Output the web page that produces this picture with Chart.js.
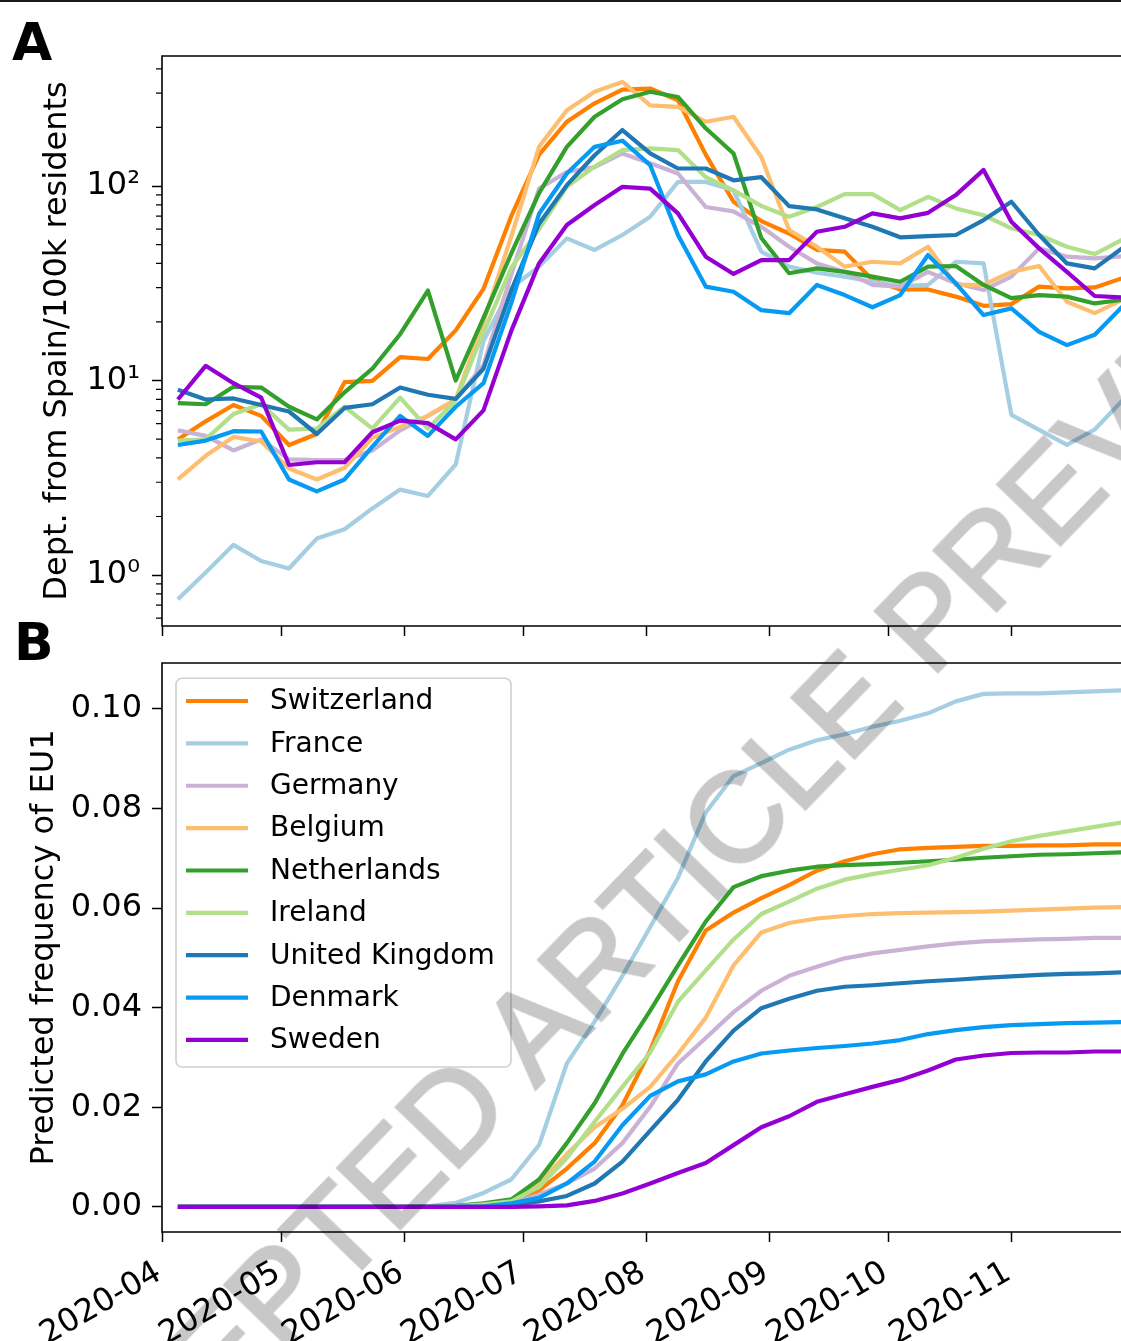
<!DOCTYPE html>
<html><head><meta charset="utf-8">
<script src="https://cdn.jsdelivr.net/npm/chart.js@4.4.1/dist/chart.umd.min.js"></script>
<style>
html,body{margin:0;padding:0;background:#fff;overflow:hidden;width:1121px;height:1341px;}
#wrap{position:relative;width:1121px;height:1341px;overflow:hidden;background:#fff;}
#topline{position:absolute;left:0;top:0;width:1121px;height:2px;background:#1a1a1a;z-index:3;}
#ca{position:absolute;left:0;top:0;}
#cb{position:absolute;left:0;top:640px;}
.plabel{position:absolute;font-family:'DejaVu Sans';font-weight:bold;font-size:52px;line-height:52px;color:#000;z-index:2;}
#wm{position:absolute;left:655px;top:902px;transform:translate(-50%,-50%) rotate(-46deg);font-family:'Liberation Sans';font-size:127px;line-height:1;white-space:nowrap;color:#c8c8c8;-webkit-text-stroke:3px #c8c8c8;mix-blend-mode:multiply;z-index:4;pointer-events:none;}
</style></head>
<body><div id="wrap">
<div id="topline"></div>
<canvas id="ca" width="1121" height="640" style="width:1121px;height:640px"></canvas>
<canvas id="cb" width="1121" height="701" style="width:1121px;height:701px"></canvas>
<div class="plabel" style="left:12px;top:16px">A</div>
<div class="plabel" style="left:14px;top:616px">B</div>
<div id="wm">ACCEPTED ARTICLE PREVIEW</div>
</div>
<script>
// ---------- data ----------
const weeks = ['2020-04-05','2020-04-12','2020-04-19','2020-04-26','2020-05-03','2020-05-10','2020-05-17','2020-05-24','2020-05-31','2020-06-07','2020-06-14','2020-06-21','2020-06-28','2020-07-05','2020-07-12','2020-07-19','2020-07-26','2020-08-02','2020-08-09','2020-08-16','2020-08-23','2020-08-30','2020-09-06','2020-09-13','2020-09-20','2020-09-27','2020-10-04','2020-10-11','2020-10-18','2020-10-25','2020-11-01','2020-11-08','2020-11-15','2020-11-22','2020-11-29'];
const monthTicks = ['2020-04-01','2020-05-01','2020-06-01','2020-07-01','2020-08-01','2020-09-01','2020-10-01','2020-11-01'];
const monthLabels = ['2020-04','2020-05','2020-06','2020-07','2020-08','2020-09','2020-10','2020-11'];
const countries = ['Switzerland','France','Germany','Belgium','Netherlands','Ireland','United Kingdom','Denmark','Sweden'];
const colors = ['#ff7f00','#a6cee3','#cab2d6','#fdbf6f','#33a02c','#b2df8a','#1f78b4','#069af3','#9400d3'];

// Panel A: departures from Spain per 100k residents (log scale)
const deptSwitzerland = [4.98,6.17,7.48,6.58,4.66,5.31,9.81,9.96,13.2,12.9,18.1,29.6,70,145,214,266,313,317,276,145,83,66,57,47,46,33,29.4,29.4,27,24.2,24.7,30.4,29.8,30.1,33.6];
const deptFrance      = [0.75,1.03,1.43,1.18,1.08,1.54,1.72,2.2,2.75,2.55,3.7,16,30,38.5,53.8,46.9,56,69.5,105,105,95,46,38.5,35.8,34.2,32.2,30.6,31,40.8,40,6.66,5.57,4.67,5.6,7.9];
const deptGermany     = [5.54,5.19,4.37,4.98,3.93,3.9,3.9,4.37,5.54,6.58,7.98,12,35,97,118,125,147,131,116,78,74,61.7,48.7,40,36.2,31,30.4,36.2,31.6,29.2,34.2,47.8,43.3,42.5,43.5];
const deptBelgium     = [3.1,4.1,5.13,4.86,3.53,3.1,3.56,5.08,5.78,6.58,8.0,20,55,159,245,305,343,260,255,214,227,141,59.4,48.7,38.5,40.8,40,48.7,31,31,36.2,38.8,25.4,22.2,26];
const deptNetherlands = [7.65,7.55,9.29,9.2,7.33,6.31,8.7,11.5,17.3,29,10,21,45,92,159,227,279,305,287,198,147,54,35.6,37.7,36.2,34.2,32.2,38.5,38.8,31,26.5,27.5,27,24.9,26];
const deptIreland     = [4.91,4.98,6.72,7.55,5.59,5.66,7.33,5.66,8.16,5.66,7.9,17.7,38,60,99,126,153,156,153,111,95,79,69.5,78,90.8,90.8,75.2,88,76.7,70.8,60.6,56,48.7,44.7,53];
const deptUK          = [8.97,7.99,8.09,7.48,6.93,5.31,7.23,7.55,9.2,8.45,8.05,11.5,29,64,101,144,194,147,123,123,107,111,78.8,75.8,68.2,61.7,54.5,55.3,56,66.8,83,56,40,37.7,48];
const deptDenmark     = [4.66,4.91,5.49,5.47,3.1,2.69,3.1,4.57,6.58,5.19,7.33,9.69,25,72,116,159,171,128,56,30.4,28.6,23,22.2,31,27.5,23.8,27.5,44.2,31.6,21.7,23.5,17.8,15.2,17.2,24];
const deptSweden      = [7.99,11.9,9.69,8.16,3.68,3.8,3.8,5.42,6.22,6.04,4.98,7.02,18,40,63,79.8,99,97,72.3,43.3,35.3,41.6,41.6,58.2,61.7,72.3,68.2,72.8,89.8,121,65.5,47.8,36.2,27.2,26.7];

// Panel B: predicted frequency of EU1
const freqSwitzerland = [0,0,0,0,0,0,0,0,0,0,0,0.0002,0.0007,0.0033,0.0077,0.0128,0.0204,0.0314,0.0453,0.0555,0.0591,0.062,0.0646,0.0675,0.0694,0.0708,0.0718,0.0721,0.0723,0.0725,0.0725,0.0726,0.0726,0.0728,0.0728];
const freqFrance      = [0,0,0,0,0,0,0,0,0,0.0001,0.0008,0.0028,0.0055,0.0124,0.0288,0.0372,0.0464,0.0562,0.0661,0.0792,0.0865,0.0891,0.0918,0.0937,0.0949,0.0964,0.0976,0.0991,0.1015,0.103,0.1031,0.1031,0.1033,0.1035,0.1037];
const freqGermany     = [0,0,0,0,0,0,0,0,0,0,0,0.0001,0.0007,0.0025,0.0047,0.0077,0.0128,0.0201,0.0288,0.0339,0.0391,0.0434,0.0464,0.0482,0.0499,0.0509,0.0516,0.0523,0.0529,0.0533,0.0535,0.0537,0.0538,0.054,0.054];
const freqBelgium     = [0,0,0,0,0,0,0,0,0,0,0,0.0004,0.001,0.0047,0.0106,0.016,0.0197,0.0241,0.0307,0.038,0.0485,0.0551,0.057,0.0579,0.0584,0.0588,0.059,0.0591,0.0592,0.0593,0.0595,0.0597,0.0599,0.0601,0.0602];
const freqNetherlands = [0,0,0,0,0,0,0,0,0,0,0.0002,0.0007,0.0015,0.0055,0.0128,0.0208,0.0307,0.0394,0.0485,0.0573,0.0642,0.0664,0.0675,0.0683,0.0686,0.0688,0.0691,0.0694,0.0697,0.0701,0.0704,0.0707,0.0708,0.071,0.0712];
const freqIreland     = [0,0,0,0,0,0,0,0,0,0,0.0001,0.0005,0.0011,0.004,0.0098,0.0171,0.0241,0.031,0.0412,0.0475,0.0537,0.0588,0.0613,0.0639,0.0657,0.0668,0.0677,0.0686,0.0701,0.0719,0.0734,0.0745,0.0754,0.0763,0.0772];
const freqUK          = [0,0,0,0,0,0,0,0,0,0,0,0,0.0003,0.0011,0.0022,0.0047,0.0091,0.0153,0.0215,0.0292,0.0354,0.0399,0.0418,0.0434,0.0442,0.0445,0.0449,0.0453,0.0456,0.046,0.0463,0.0466,0.0468,0.0469,0.0471];
const freqDenmark     = [0,0,0,0,0,0,0,0,0,0,0,0.0001,0.0007,0.0018,0.0047,0.0091,0.0164,0.0223,0.0252,0.0266,0.0292,0.0308,0.0314,0.0319,0.0323,0.0328,0.0335,0.0347,0.0355,0.0361,0.0365,0.0367,0.0369,0.037,0.0371];
const freqSweden      = [0,0,0,0,0,0,0,0,0,0,0,0,0,0.0001,0.0003,0.0012,0.0027,0.0047,0.0068,0.0088,0.0124,0.016,0.0182,0.0211,0.0226,0.0241,0.0255,0.0274,0.0296,0.0304,0.0309,0.031,0.031,0.0312,0.0312];

const yTicksA = [1, 10, 100];
const yTickLabelsA = ['10\u2070', '10\u00b9', '10\u00b2'];
const yMinorA = [0.6,0.7,0.8,0.9,2,3,4,5,6,7,8,9,20,30,40,50,60,70,80,90,200,300,400];
const yTicksB = [0, 0.02, 0.04, 0.06, 0.08, 0.10];
const yTickLabelsB = ['0.00','0.02','0.04','0.06','0.08','0.10'];

const deptSeries = [deptSwitzerland,deptFrance,deptGermany,deptBelgium,deptNetherlands,deptIreland,deptUK,deptDenmark,deptSweden];
const freqSeries = [freqSwitzerland,freqFrance,freqGermany,freqBelgium,freqNetherlands,freqIreland,freqUK,freqDenmark,freqSweden];

// ---------- helpers ----------
const DAY0 = Date.parse('2020-04-01T00:00:00Z');
const dayNum = d => (Date.parse(d + 'T00:00:00Z') - DAY0) / 86400000;
const weekDays = weeks.map(dayNum);
const monthDays = monthTicks.map(dayNum);
const PX_PER_DAY = 3.969;
const AX_LEFT = 162;
const X_MAX = (1121 - AX_LEFT) / PX_PER_DAY;
const FONT = 'DejaVu Sans';
const FS = 32;
const LW = 4.2;

function makeDatasets(series) {
  return series.map((vals, i) => ({
    label: countries[i],
    data: vals.map((v, j) => ({x: weekDays[j], y: v})),
    borderColor: colors[i],
    backgroundColor: colors[i],
    borderWidth: LW,
    pointRadius: 0,
    tension: 0,
    borderJoinStyle: 'round',
    fill: false,
    order: series.length - i
  }));
}

function xScale(showLabels, height) {
  return {
    type: 'linear', min: 0, max: X_MAX,
    afterBuildTicks: s => { s.ticks = monthDays.map(v => ({value: v})); },
    afterFit: s => { s.height = height; s.paddingLeft = 0; s.paddingRight = 0; },
    ticks: {
      display: showLabels, autoSkip: false, minRotation: 30, maxRotation: 30,
      callback: (v, i) => monthLabels[i],
      font: {family: FONT, size: FS}, color: '#000', padding: 12, labelOffset: -3
    },
    grid: {drawOnChartArea: false, drawTicks: true, tickLength: 10, tickColor: '#000', tickWidth: 1.5},
    border: {display: false}
  };
}

function yFit(s) { s.width = AX_LEFT; s.paddingTop = 0; s.paddingBottom = 0; }

const spinesPlugin = {
  id: 'spines',
  afterDatasetsDraw(chart, args, opts) {
    const {ctx, chartArea: a} = chart;
    ctx.save();
    ctx.strokeStyle = '#000';
    ctx.lineWidth = 1.6;
    ctx.beginPath();
    ctx.moveTo(a.right + 2, a.top); ctx.lineTo(a.left, a.top);
    ctx.lineTo(a.left, a.bottom); ctx.lineTo(a.right + 2, a.bottom);
    ctx.stroke();
    if (opts.minor) {
      const ys = chart.scales.y;
      ctx.lineWidth = 1.2;
      ctx.beginPath();
      yMinorA.forEach(v => {
        const py = ys.getPixelForValue(v);
        ctx.moveTo(a.left - 6, py); ctx.lineTo(a.left, py);
      });
      ctx.stroke();
    }
    ctx.restore();
  }
};

const legendPlugin = {
  id: 'innerLegend',
  afterDraw(chart) {
    const {ctx, chartArea: a} = chart;
    const bx = a.left + 14, by = a.top + 15.3, bw = 335, bh = 388.7, r = 6;
    ctx.save();
    ctx.beginPath();
    ctx.moveTo(bx + r, by);
    ctx.arcTo(bx + bw, by, bx + bw, by + bh, r);
    ctx.arcTo(bx + bw, by + bh, bx, by + bh, r);
    ctx.arcTo(bx, by + bh, bx, by, r);
    ctx.arcTo(bx, by, bx + bw, by, r);
    ctx.closePath();
    ctx.fillStyle = 'rgba(255,255,255,0.8)';
    ctx.fill();
    ctx.strokeStyle = '#d0d0d0';
    ctx.lineWidth = 1.6;
    ctx.stroke();
    ctx.font = '28px ' + FONT;
    ctx.textBaseline = 'middle';
    ctx.textAlign = 'left';
    chart.data.datasets.forEach((ds, i) => {
      const y = a.top + 38 + i * 42.37;
      ctx.strokeStyle = ds.borderColor;
      ctx.lineWidth = LW;
      ctx.beginPath();
      ctx.moveTo(a.left + 24, y); ctx.lineTo(a.left + 86, y);
      ctx.stroke();
      ctx.fillStyle = '#000';
      ctx.fillText(ds.label, a.left + 108, y + 1);
    });
    ctx.restore();
  }
};

// ---------- Panel A ----------
new Chart(document.getElementById('ca'), {
  type: 'line',
  data: {datasets: makeDatasets(deptSeries)},
  plugins: [spinesPlugin],
  options: {
    responsive: false, animation: false, devicePixelRatio: 1, events: [],
    layout: {padding: {top: 56, left: 0, right: 0, bottom: 0}},
    plugins: {legend: {display: false}, tooltip: {enabled: false}, spines: {minor: true}},
    scales: {
      x: xScale(false, 14),
      y: {
        type: 'logarithmic', min: 0.547, max: 466,
        afterBuildTicks: s => { s.ticks = yTicksA.map(v => ({value: v})); },
        afterFit: yFit,
        ticks: {callback: (v, i) => yTickLabelsA[i], font: {family: FONT, size: FS}, color: '#000', padding: 12},
        grid: {drawOnChartArea: false, drawTicks: true, tickLength: 10, tickColor: '#000', tickWidth: 1.5},
        border: {display: false},
        title: {display: true, text: 'Dept. from Spain/100k residents', font: {family: FONT, size: FS}, color: '#000', padding: {top: 38, bottom: 0}}
      }
    }
  }
});

// ---------- Panel B ----------
new Chart(document.getElementById('cb'), {
  type: 'line',
  data: {datasets: makeDatasets(freqSeries)},
  plugins: [spinesPlugin, legendPlugin],
  options: {
    responsive: false, animation: false, devicePixelRatio: 1, events: [],
    layout: {padding: {top: 23, left: 0, right: 0, bottom: 0}},
    plugins: {legend: {display: false}, tooltip: {enabled: false}, spines: {minor: false}},
    scales: {
      x: xScale(true, 109),
      y: {
        type: 'linear', min: -0.00504, max: 0.1092,
        afterBuildTicks: s => { s.ticks = yTicksB.map(v => ({value: v})); },
        afterFit: yFit,
        ticks: {callback: (v, i) => yTickLabelsB[i], font: {family: FONT, size: FS}, color: '#000', padding: 10},
        grid: {drawOnChartArea: false, drawTicks: true, tickLength: 10, tickColor: '#000', tickWidth: 1.5},
        border: {display: false},
        title: {display: true, text: 'Predicted frequency of EU1', font: {family: FONT, size: FS}, color: '#000', padding: {top: 25, bottom: 0}}
      }
    }
  }
});
</script>
</body></html>
